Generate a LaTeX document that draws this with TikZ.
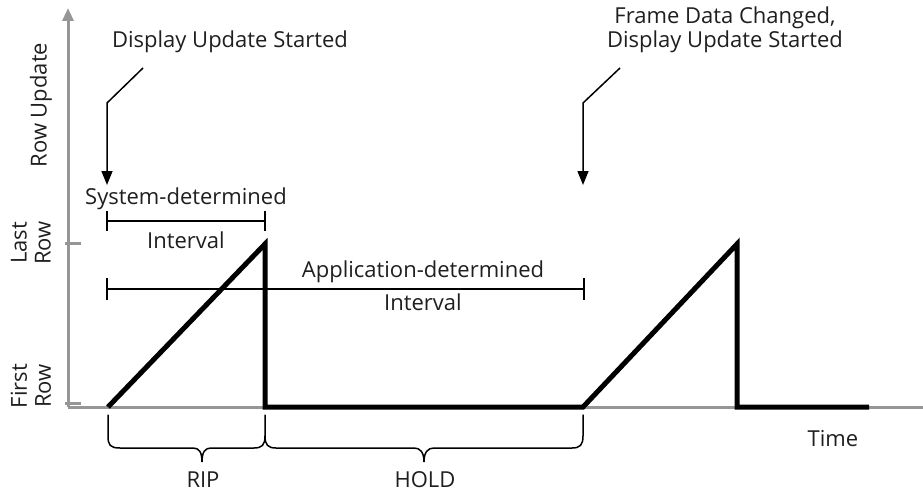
\documentclass[tikz,border=0pt]{standalone}
\usepackage{fontspec}
\setmainfont{Open Sans}
\usetikzlibrary{arrows.meta}
\definecolor{axisgray}{RGB}{150,150,150}
\tikzset{
  lbl/.style={font=\fontsize{22}{24}\selectfont, inner sep=0pt, align=center, text=black!88},
  axisline/.style={draw=axisgray, line width=3pt},
  signal/.style={draw=black, line width=5pt, line join=miter},
  thinline/.style={draw=black, line width=1.5pt},
  callout/.style={draw=black, line width=1.5pt, -{Triangle[width=11pt,length=14pt]}},
  bracelin/.style={draw=black, line width=1.5pt, line cap=round}
}
\begin{document}
\begin{tikzpicture}[x=1pt,y=-1pt]
\useasboundingbox (0,0) rectangle (923,495);
% axes
\coordinate (o) at (68,407);
\coordinate (ytop) at (68,8);
\coordinate (xend) at (923,407);
\draw[axisline, -{Triangle[width=11pt,length=13pt]}] (o) -- (ytop);
\draw[axisline] (o) -- (xend);
\coordinate (tl1) at (65,243); \coordinate (tl2) at (81,243);
\coordinate (tf1) at (65,403); \coordinate (tf2) at (81,403);
\draw[axisline] (tl1) -- (tl2);
\draw[axisline] (tf1) -- (tf2);
% axis labels
\node[lbl, rotate=90] (rowupd) at (41,105) {Row Update};
\node[lbl, rotate=90] (lastrow) at (31,243) {Last\\Row};
\node[lbl, rotate=90] (firstrow) at (31,386) {First\\Row};
\node[lbl] (time) at (833,439) {Time};
% signal
\coordinate (s0) at (108,407);
\coordinate (s1) at (265,244);
\coordinate (s2) at (265,407);
\coordinate (s3) at (583,407);
\coordinate (s4) at (737,244);
\coordinate (s5) at (737,407);
\coordinate (s6) at (869,407);
\draw[signal] (s0) -- (s1) -- (s2) -- (s3) -- (s4) -- (s5) -- (s6);
% callout 1
\node[lbl] (du1) at (230,42) {Display Update Started};
\coordinate (c1a) at (143,68);
\coordinate (c1b) at (107,103);
\coordinate (c1c) at (107,185);
\draw[callout] (c1a) -- (c1b) -- (c1c);
% callout 2
\node[lbl] (du2) at (725,30) {Frame Data Changed,\\Display Update Started};
\coordinate (c2a) at (620,68);
\coordinate (c2b) at (583,103);
\coordinate (c2c) at (583,185);
\draw[callout] (c2a) -- (c2b) -- (c2c);
% system-determined interval
\node[lbl] (sys) at (186,199) {System-determined};
\coordinate (b1l) at (107,221); \coordinate (b1r) at (265,221);
\draw[thinline] (b1l) -- (b1r);
\draw[thinline] ([yshift=-10pt]b1l) -- ([yshift=10pt]b1l);
\draw[thinline] ([yshift=-10pt]b1r) -- ([yshift=10pt]b1r);
\node[lbl] (int1) at (186,240) {Interval};
% application-determined interval
\node[lbl] (app) at (423,272) {Application-determined};
\coordinate (b2l) at (107,289); \coordinate (b2r) at (584,289);
\draw[thinline] (b2l) -- (b2r);
\draw[thinline] ([yshift=-11pt]b2l) -- ([yshift=11pt]b2l);
\draw[thinline] ([yshift=-11pt]b2r) -- ([yshift=11pt]b2r);
\node[lbl] (int2) at (423,302) {Interval};
% braces
\draw[bracelin] (108,415) -- (108,436) .. controls (108,445) and (110,448) .. (120,448)
  -- (193,448) .. controls (199,448) and (202,452) .. (202,462)
  .. controls (202,452) and (205,448) .. (211,448)
  -- (254,448) .. controls (262,448) and (265,445) .. (265,436) -- (265,415);
\draw[bracelin] (265,436) .. controls (265,445) and (268,448) .. (276,448)
  -- (414,448) .. controls (420,448) and (424,452) .. (424,462)
  .. controls (424,452) and (428,448) .. (434,448)
  -- (572,448) .. controls (580,448) and (583,445) .. (583,436) -- (583,415);
\node[lbl] (rip) at (203,480) {RIP};
\node[lbl] (hold) at (425,480) {HOLD};
\end{tikzpicture}
\end{document}
